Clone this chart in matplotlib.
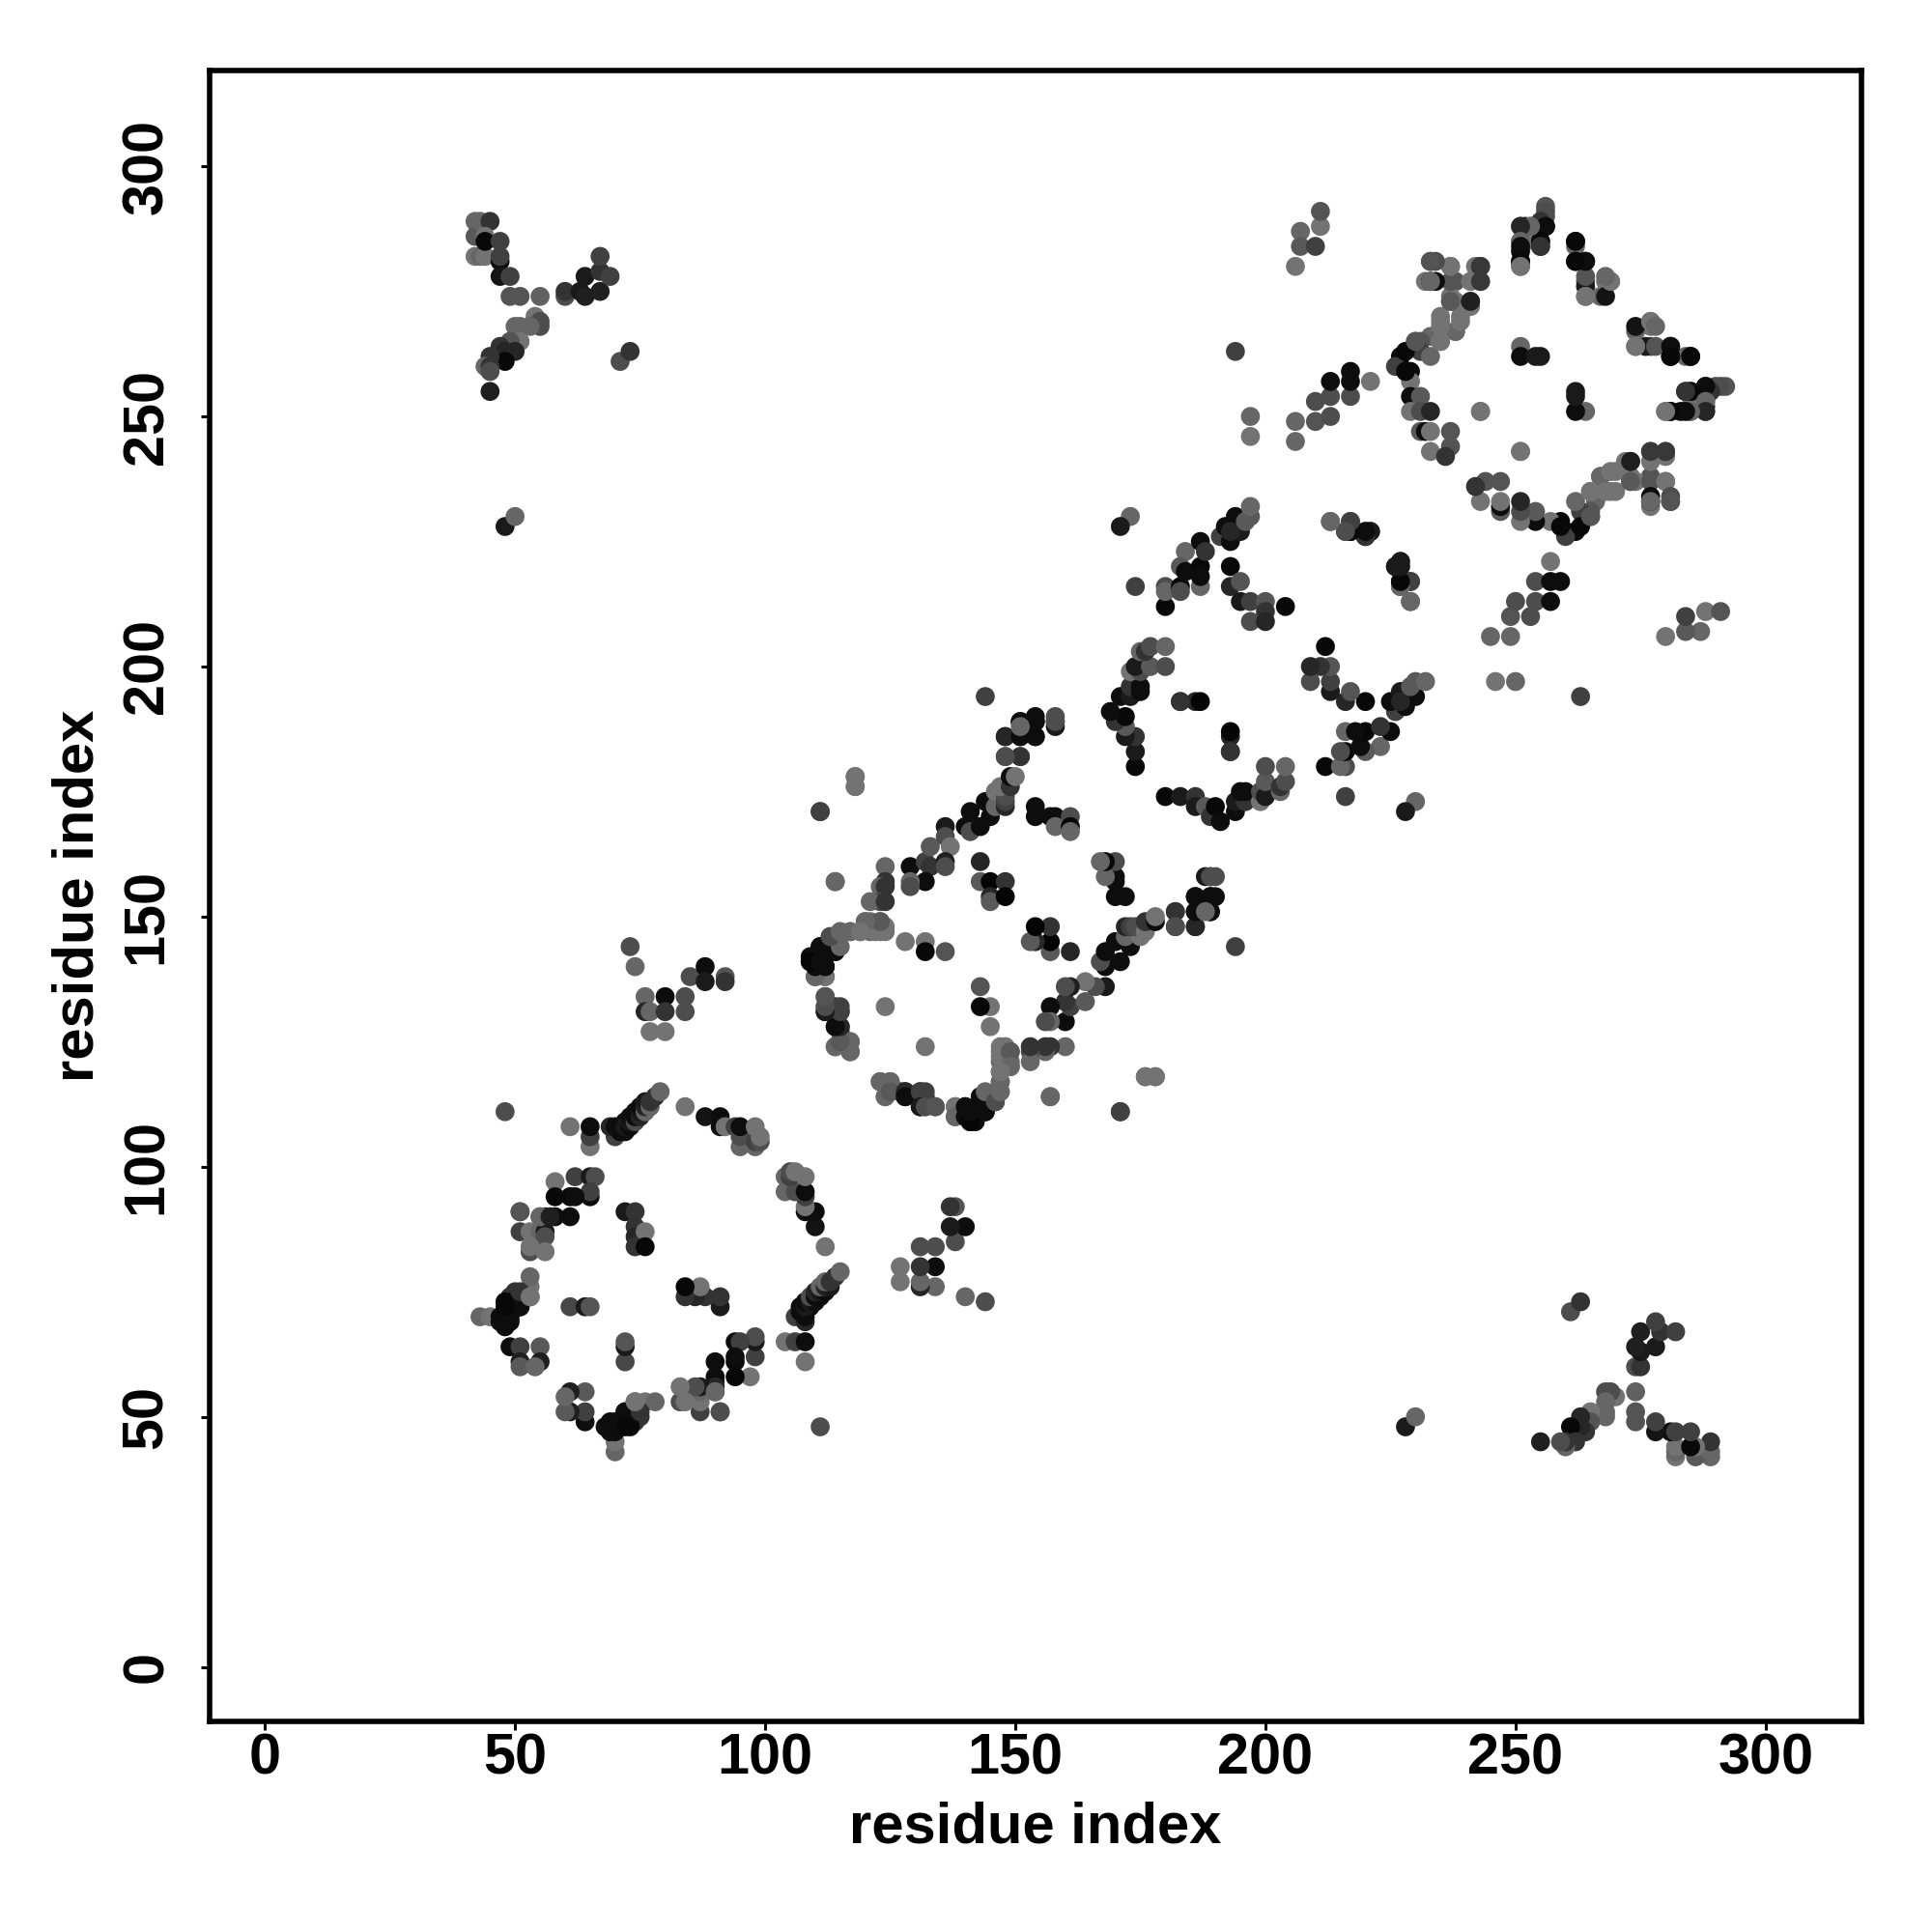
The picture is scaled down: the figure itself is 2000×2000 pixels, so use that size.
import matplotlib
matplotlib.use("Agg")
import matplotlib.pyplot as plt

plt.rcParams['font.family'] = ['Liberation Sans', 'DejaVu Sans']

# contacts read off the upper-left half of the map: (residue i, residue j, gray level)
# the map is symmetric so every pair gets drawn twice
block1 = [
    (48,111,.3),(61,108,.45),(65,104,.45),(65,106,.25),(65,108,.05),
    (70,106,.25),(69,108,.15),(70,108,.05),(71,108,.05),(71,107,.05),(72,107,.05),(72,109,.05),
    (72,108,.1),(73,108,.05),(73,109,.1),(73,110,.05),(74,109,.3),(74,110,.05),(74,111,.05),
    (75,110,.15),(75,111,.1),(75,112,.05),(76,111,.4),(76,112,.15),(76,113,.1),(77,112,.4),
    (77,113,.2),(78,114,.2),(79,115,.4),
    (84,112,.45),(88,110,.08),(91,108,.05),(91,110,.05),(92,108,.45),(94,108,.25),
    (95,104,.4),(95,106,.3),(95,108,.05),(98,104,.4),(98,105,.25),(98,108,.45),
    (99,105,.3),(99,106,.45),
    (58,97,.45),(62,98,.25),(65,98,.1),(66,98,.3),(65,94,.05),(65,95,.25),(58,94,.03),
    (61,94,.03),(62,94,.05),(61,90,.05),(58,90,.05),(56,90,.15),(55,90,.4),(51,91,.3),
    (51,87,.25),(53,87,.45),(55,87,.4),(56,87,.1),(56,86,.3),(53,83,.3),(53,84,.45),(56,83,.45),
    (72,91,.1),(74,91,.2),(74,88,.2),(74,86,.15),(76,87,.45),(74,84,.2),(76,84,.03),
    (53,74,.3),(53,76,.45),(53,78,.4),(50,75,.2),(49,74,.2),(49,73,.1),(48,73,.03),
    (48,71,.05),(51,72,.05),(43,70,.4),(45,70,.45),(47,70,.05),(49,70,.05),(48,68,.05),
    (47,69,.05),(49,69,.05),(51,72,.05),(48,72,.03),(51,75,.2),(53,74,.45),
    (61,72,.28),(64,72,.1),(65,72,.33),
    (49,64,.05),(51,64,.25),(55,64,.35),(51,61,.12),(55,61,.12),(51,60,.35),(54,60,.4),
    (90,57,.12),(55,90,.4),(91,51,.33),
]
block1_2 = [
    (73,144,.3),(74,140,.4),(76,134,.4),(76,131,.15),(77,127,.45),(77,131,.4),
    (80,134,.05),(80,131,.2),(80,127,.45),(84,134,.3),(84,131,.3),(85,138,.3),
    (88,140,.05),(88,137,.1),(92,138,.33),(92,137,.2),
]
block2 = [
    (118,178,.45),(118,176,.45),(111,171,.28),(114,157,.4),
    (124,160,.4),(124,157,.2),(123,156,.4),(124,156,.2),(123,153,.3),(121,153,.4),(124,153,.2),
    (129,160,.05),(132,161,.25),(133,164,.35),(133,160,.2),(132,157,.05),(129,157,.4),(129,156,.3),
    (136,168,.1),(136,166,.3),(137,164,.45),(136,161,.12),(136,160,.3),
    (140,168,.05),(141,167,.3),(143,168,.05),(141,171,.05),(144,173,.05),(145,170,.05),
    (146,172,.4),(146,175,.45),(148,172,.15),(148,173,.25),(148,174,.3),(147,176,.45),
    (149,176,.2),(149,178,.05),(150,178,.45),
    (148,182,.3),(151,182,.3),(148,186,.15),(151,186,.05),(154,186,.05),(151,189,.05),
    (154,189,.05),(154,190,.05),(158,189,.3),(158,190,.3),(144,194,.25),
    (154,172,.05),(154,170,.05),(157,170,.05),(158,170,.05),(158,168,.4),(161,170,.3),(161,168,.03),(161,167,.4),
    (143,161,.15),(143,157,.35),(145,157,.02),(148,157,.2),(145,154,.15),(145,153,.35),(148,154,.02),
    (109,142,.05),(109,141,.05),(111,144,.05),(111,141,.05),(112,140,.05),(110,138,.4),(112,138,.45),
    (113,146,.3),(114,143,.1),(115,147,.45),(117,147,.4),(119,147,.4),(120,149,.4),(121,149,.4),
    (123,149,.35),(121,147,.4),(123,147,.45),(124,148,.45),(128,145,.45),(132,145,.45),(132,143,.03),(136,143,.33),
    (112,134,.35),(112,131,.1),(112,132,.4),(114,132,.2),(115,131,.25),(114,128,.1),(115,128,.15),(115,127,.2),
    (114,124,.45),(115,125,.35),(117,125,.4),(117,123,.45),(124,132,.45),
    (117,123,.4),(117,125,.4),(114,124,.4),(115,125,.35),(115,128,.15),(114,128,.05),
    (115,131,.25),(115,132,.25),(112,131,.1),(112,132,.3),(112,134,.33),(112,138,.45),(110,138,.4),
    (112,140,.05),(110,140,.05),(109,141,.02),(111,141,.05),(114,143,.05),(111,144,.05),(115,144,.4),
    (113,146,.3),(115,147,.4),(117,147,.4),(122,147,.45),(124,147,.45),(123,149,.35),(120,149,.4),(119,147,.45),
    (114,157,.4),(118,176,.45),(118,178,.45),(111,171,.25),
]
block2_3 = [
    (151,182,.2),(148,182,.3),(154,186,.05),(148,186,.15),(158,188,.1),(158,189,.3),
    (154,189,.05),(151,189,.05),(151,186,.05),(151,188,.4),
]
block3 = [
    (173,230,.4),(171,228,.1),(174,216,.25),(180,212,.03),(180,216,.3),(180,215,.4),
    (183,216,.03),(183,215,.3),(184,223,.4),(183,220,.35),(184,219,.05),(187,220,.03),
    (187,216,.4),(187,218,.05),(187,225,.05),(188,223,.2),(191,226,.25),(193,225,.05),(192,228,.05),
    (194,230,.05),(195,227,.1),(193,227,.15),(196,229,.35),(197,230,.35),(197,232,.4),
    (193,220,.03),(193,216,.15),(195,217,.33),(195,213,.1),(197,213,.25),(200,213,.33),
    (200,211,.2),(204,212,.03),(197,209,.3),(200,209,.15),
    (213,229,.4),(217,229,.25),(216,227,.4),(217,227,.03),(220,227,.1),(221,227,.1),(220,226,.1),
    (227,221,.1),(226,220,.2),(227,220,.05),(227,217,.03),(229,217,.25),(227,216,.3),(229,213,.4),
    (174,180,.03),(174,183,.1),(174,186,.2),(172,186,.1),(172,188,.35),(170,189,.2),(172,190,.03),
    (169,191,.05),(171,194,.05),(173,194,.1),(173,196,.2),(175,195,.05),(175,196,.05),(173,199,.45),
    (175,199,.3),(174,200,.1),(177,200,.35),(180,200,.3),(175,203,.4),(176,203,.2),(177,204,.3),(180,204,.4),
    (183,193,.25),(186,193,.15),(187,193,.02),(183,193,.2),
]
block3_4 = [
    (194,263,.25),(197,250,.4),(197,246,.45),(206,245,.4),(206,249,.4),(210,249,.33),
    (210,253,.3),(213,250,.3),(213,254,.3),(213,257,.05),(217,254,.3),(217,257,.05),
    (217,259,.05),(221,257,.45),(206,280,.45),(207,287,.4),(207,284,.35),(210,284,.25),
    (211,288,.45),(211,291,.33),
]
block4 = [
    (256,292,.33),(256,290,.3),(251,288,.4),(252,288,.05),(253,288,.45),(255,288,.3),(256,288,.03),
    (251,285,.4),(252,285,.45),(255,285,.03),(255,284,.2),(251,283,.05),(251,281,.08),(251,280,.45),
    (262,285,.03),(262,284,.4),(262,281,.03),(264,281,.05),(264,277,.3),(264,276,.1),(268,277,.45),
    (269,277,.45),(264,274,.45),(267,274,.4),(268,274,.08),
    (233,281,.3),(237,280,.45),(242,280,.45),(243,280,.3),(232,277,.45),(233,277,.05),(238,277,.33),
    (241,277,.45),(243,277,.45),(237,273,.4),(238,273,.45),(241,273,.2),(239,270,.45),(235,269,.45),
    (238,267,.35),(233,266,.4),(235,265,.45),(230,265,.3),(231,265,.33),(231,263,.25),(233,262,.4),
    (227,262,.03),(227,260,.03),(229,259,.03),(229,257,.45),(229,254,.05),(231,254,.35),(229,251,.45),
    (231,251,.3),(233,251,.15),(231,247,.35),(232,247,.05),(233,247,.45),(237,247,.33),(233,243,.45),
    (237,244,.33),(236,242,.2),(243,251,.45),(251,264,.4),(251,262,.05),(254,262,.1),(255,262,.1),(251,243,.45),
    (226,260,.25),(228,259,.03),(228,263,.03),(230,265,.33),
    (241,272,.45),(241,273,.12),(243,277,.22),(243,280,.22),(237,274,.45),(237,277,.33),(237,280,.45),
    (234,277,.05),(233,277,.4),(234,281,.3),(233,281,.33),(238,267,.4),(239,269,.45),(235,268,.45),
    (235,270,.45),(237,273,.35),(235,265,.45),
    (269,277,.45),(268,278,.4),(264,274,.45),(264,278,.33),(264,281,.05),(262,281,.03),(262,285,.03),
    (256,291,.3),(255,289,.2),(256,288,.05),(255,285,.03),(255,284,.2),(253,288,.4),(251,288,.15),
    (251,285,.4),(251,284,.05),(251,281,.03),(251,280,.45),
]
block1_4 = [
    (42,289,.4),(42,286,.35),(42,282,.45),(43,289,.4),(45,289,.2),(43,282,.4),(44,286,.45),
    (44,282,.45),(44,285,.03),(47,285,.25),(47,281,.05),(47,282,.25),(47,278,.08),(49,278,.25),
    (49,274,.33),(51,274,.33),(55,274,.38),(60,274,.3),(60,275,.2),(64,278,.1),(63,275,.1),(64,274,.12),
    (67,275,.12),(67,279,.2),(69,278,.25),(67,282,.25),(71,261,.3),(73,263,.2),
    (54,270,.45),(55,268,.3),(55,269,.3),(53,268,.4),(50,268,.4),(51,268,.4),(51,265,.45),(49,265,.33),
    (47,264,.2),(50,263,.15),(48,263,.15),(48,261,.03),(45,262,.2),(44,260,.4),(45,260,.2),(45,259,.3),
    (45,255,.12),(48,228,.1),(50,230,.4),
]

blocks = [block1, block1_2, block2, block2_3, block3, block3_4, block4, block1_4]

ticks = [0, 50, 100, 150, 200, 250, 300]

fig = plt.figure(figsize=(10, 10), dpi=200)
ax = fig.add_axes([0.1084, 0.109, 0.8552, 0.8546])

for block in blocks:
    i = [c[0] for c in block]
    j = [c[1] for c in block]
    cols = [str(c[2]) for c in block]
    ax.scatter(i, j, s=50, c=cols, linewidths=0, zorder=3)
    ax.scatter(j, i, s=50, c=cols, linewidths=0, zorder=3)

ax.set_xlim(-11.1, 319.2)
ax.set_ylim(-10.9, 319.2)
ax.set_xticks(ticks)
ax.set_yticks(ticks)
ax.tick_params(length=3.2, width=1.1, labelsize=21.4)
ax.tick_params(axis='x', pad=0.8)
ax.tick_params(axis='y', pad=10)
for lab in ax.get_xticklabels():
    lab.set_fontweight('bold')
for lab in ax.get_yticklabels():
    lab.set_fontweight('bold')
    lab.set_rotation(90)
    lab.set_va('center')
for sp in ax.spines.values():
    sp.set_linewidth(2)

ax.set_xlabel('residue index', fontsize=21.5, fontweight='bold', labelpad=6)
ax.set_ylabel('residue index', fontsize=21.5, fontweight='bold', labelpad=6)

fig.savefig('out.png')
